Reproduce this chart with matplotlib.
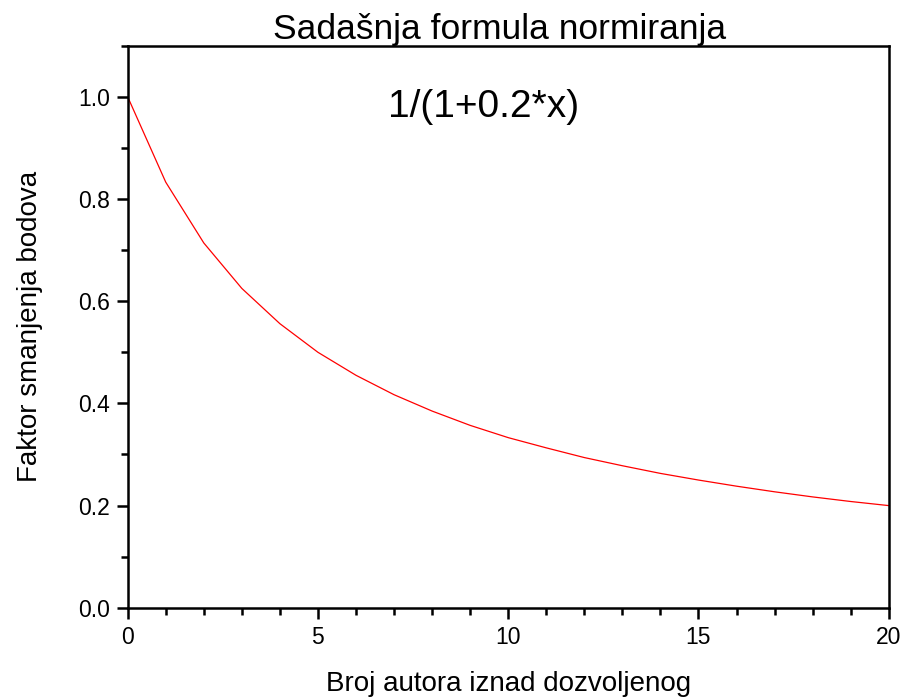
import matplotlib.pyplot as plt
from matplotlib.ticker import MultipleLocator

plt.rcParams["font.family"] = ["Liberation Sans", "DejaVu Sans"]

# Values
authors = [0, 1, 2, 3, 4, 5, 6, 7, 8, 9, 10, 11, 12, 13, 14, 15, 16, 17, 18, 19, 20]
factor = [1.0, 0.833, 0.714, 0.625, 0.556, 0.5, 0.455, 0.417, 0.385, 0.357, 0.333,
          0.313, 0.294, 0.278, 0.263, 0.25, 0.238, 0.227, 0.217, 0.208, 0.2]

fig = plt.figure(figsize=(9.03, 6.97), dpi=100)
ax = fig.add_axes([0.1414, 0.128, 0.8428, 0.8064])

ax.plot(authors, factor, color="red", linewidth=0.9)

ax.set_xlim(0, 20)
ax.set_ylim(0, 1.1)
ax.xaxis.set_major_locator(MultipleLocator(5))
ax.xaxis.set_minor_locator(MultipleLocator(1))
ax.yaxis.set_major_locator(MultipleLocator(0.2))
ax.yaxis.set_minor_locator(MultipleLocator(0.1))
ax.yaxis.set_major_formatter(plt.FormatStrFormatter("%.1f"))

for s in ax.spines.values():
    s.set_linewidth(1.8)
ax.tick_params(which="major", direction="out", length=8, width=1.8, labelsize=16.5, pad=5)
ax.tick_params(which="minor", direction="out", length=5, width=1.8)
ax.tick_params(top=False, right=False)

ax.set_title("Sadašnja formula normiranja", fontsize=25.5, pad=3, x=0.489)
ax.set_xlabel("Broj autora iznad dozvoljenog", fontsize=20, labelpad=16)
ax.set_ylabel("Faktor smanjenja bodova", fontsize=20, labelpad=25)

ax.text(6.85, 0.98, "1/(1+0.2*x)", fontsize=28, va="center", ha="left")

plt.savefig("out.png", dpi=100)
